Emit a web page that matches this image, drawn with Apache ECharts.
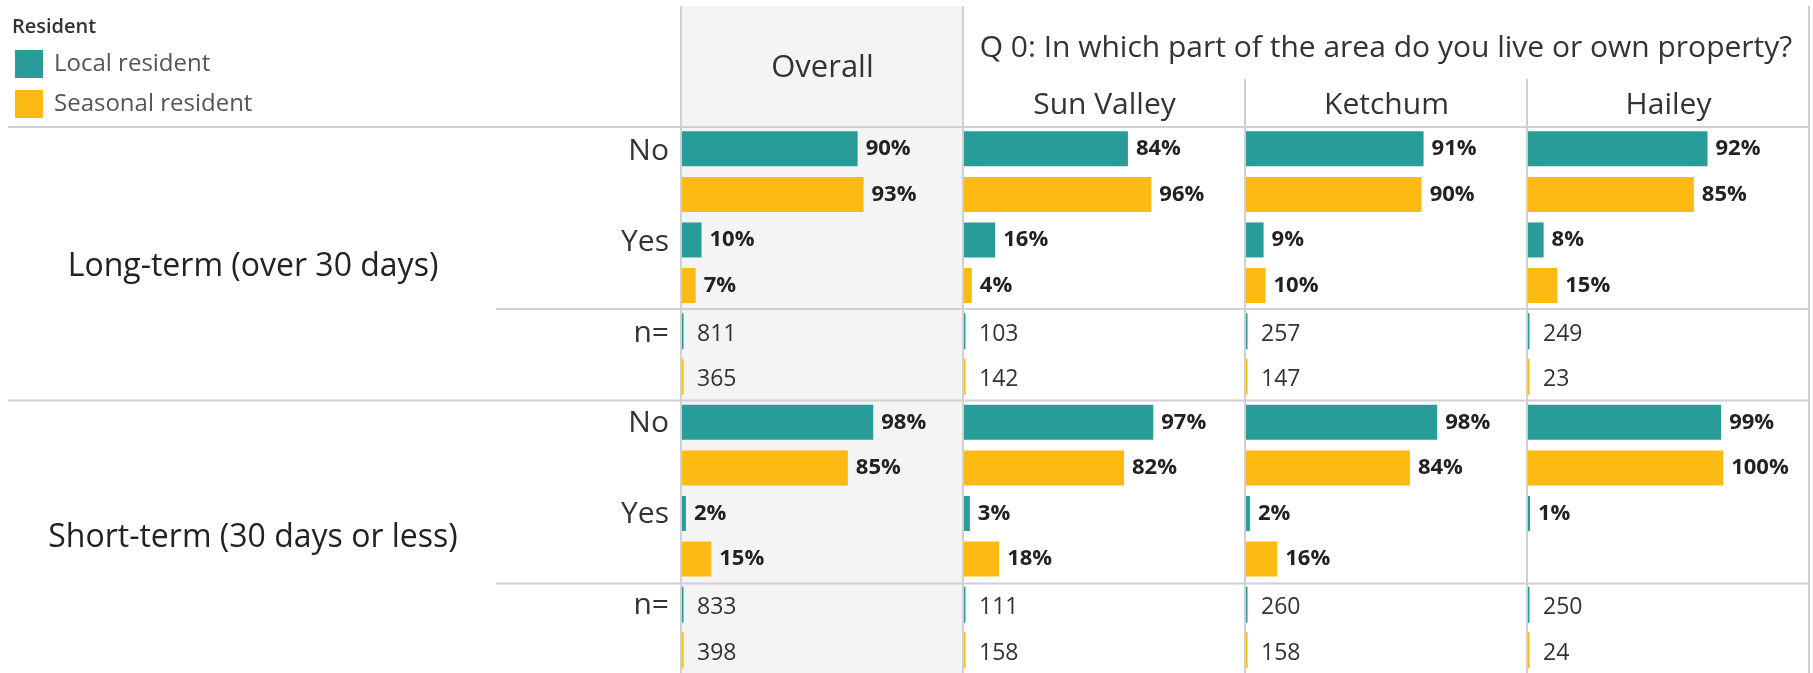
<!DOCTYPE html>
<html><head><meta charset="utf-8">
<script src="https://cdn.jsdelivr.net/npm/echarts@6/dist/echarts.min.js"></script>
<style>html,body{margin:0;padding:0;background:#fff}#c{width:1813px;height:673px}</style>
</head><body><div id="c"></div>
<script>
// ---------- data ----------
const columns = ['Overall', 'Sun Valley', 'Ketchum', 'Hailey'];
const sections = ['Long-term (over 30 days)', 'Short-term (30 days or less)'];
const answers = ['No', 'Yes'];
const residents = ['Local resident', 'Seasonal resident'];
const legendTitle = 'Resident';
const questionTitle = 'Q 0: In which part of the area do you live or own property?';
const nLabel = 'n=';

// percentages per column (Overall, Sun Valley, Ketchum, Hailey)
const localLongNo = [90, 84, 91, 92];
const seasonalLongNo = [93, 96, 90, 85];
const localLongYes = [10, 16, 9, 8];
const seasonalLongYes = [7, 4, 10, 15];
const localShortNo = [98, 97, 98, 99];
const seasonalShortNo = [85, 82, 84, 100];
const localShortYes = [2, 3, 2, 1];
const seasonalShortYes = [15, 18, 16, null];

// respondent counts
const localLongN = [811, 103, 257, 249];
const seasonalLongN = [365, 142, 147, 23];
const localShortN = [833, 111, 260, 250];
const seasonalShortN = [398, 158, 158, 24];

// ---------- layout / style ----------
const FONT = '"Open Sans", "Noto Sans", sans-serif';
const COLORS = ['#289c99', '#fdba13'];
const LINE = '#d0d0d0';
const gridTop = 126, gridH = 549;
const colLines = [681, 963, 1245, 1527, 1809];
const X_MAX = 144;

const pctTable = {};
pctTable[sections[0]] = { No: [localLongNo, seasonalLongNo], Yes: [localLongYes, seasonalLongYes] };
pctTable[sections[1]] = { No: [localShortNo, seasonalShortNo], Yes: [localShortYes, seasonalShortYes] };
const nTable = {};
nTable[sections[0]] = [localLongN, seasonalLongN];
nTable[sections[1]] = [localShortN, seasonalShortN];

const rowKeys = [];
sections.forEach(s => {
  answers.forEach(a => residents.forEach(r => rowKeys.push(s + '|' + a + '|' + r)));
  residents.forEach(r => rowKeys.push(s + '|' + nLabel + '|' + r));
});

const hiddenAxis = { axisLine: { show: false }, axisTick: { show: false }, splitLine: { show: false } };
const grids = [], xAxes = [], yAxes = [], series = [];
columns.forEach((col, c) => {
  grids.push({ left: colLines[c] + 1, top: gridTop, width: colLines[c + 1] - colLines[c] - 1, height: gridH });
  xAxes.push(Object.assign({
    gridIndex: c, type: 'value', min: 0, max: X_MAX, position: 'top', axisLabel: { show: false },
    name: col, nameLocation: 'middle', nameGap: c === 0 ? 58 : 21,
    nameTextStyle: { fontSize: c === 0 ? 31 : 30, color: '#333', fontFamily: FONT, verticalAlign: 'middle' }
  }, hiddenAxis));
  yAxes.push(Object.assign({ gridIndex: c, type: 'category', data: rowKeys, inverse: true, axisLabel: { show: false } }, hiddenAxis));
  residents.forEach((r, ri) => {
    series.push({
      name: r, type: 'bar', xAxisIndex: c, yAxisIndex: c,
      barWidth: 35, barGap: '-100%',
      itemStyle: { color: COLORS[ri] },
      label: {
        show: true, position: 'right', distance: 8, formatter: p => p.value + '%',
        fontSize: 22, fontWeight: 'bold', color: '#222', fontFamily: FONT
      },
      data: rowKeys.map(k => {
        const p = k.split('|');
        if (p[2] !== r || p[1] === nLabel) return '-';
        const v = pctTable[p[0]][p[1]][ri][c];
        return v == null ? '-' : v;
      })
    });
    series.push({
      name: 'n ' + r, type: 'custom', xAxisIndex: c, yAxisIndex: c,
      encode: { y: 0, x: 1 },
      data: rowKeys.filter(k => { const p = k.split('|'); return p[1] === nLabel && p[2] === r; })
        .map(k => [k, nTable[k.split('|')[0]][ri][c]]),
      renderItem: (params, api) => {
        const pt = api.coord([0, api.value(0)]);
        const h = 36;
        return {
          type: 'group', children: [
            { type: 'rect', shape: { x: pt[0], y: pt[1] - h / 2, width: 1.5, height: h }, style: { fill: COLORS[ri] } },
            { type: 'text', style: { text: String(api.value(1)), x: pt[0] + 15, y: pt[1] + 3, verticalAlign: 'middle', align: 'left',
                fontSize: 23, fontFamily: FONT, fill: '#333' } }
          ]
        };
      }
    });
  });
});

// row-label axis (No / Yes / n=), slightly lowered to match the reference baseline
grids.push({ left: colLines[0] + 1, top: gridTop + 3, width: 1, height: gridH });
xAxes.push({ gridIndex: 4, type: 'value', show: false });
yAxes.push(Object.assign({
  gridIndex: 4, type: 'category', data: rowKeys, inverse: true,
  axisLabel: {
    interval: 0, margin: 13, fontSize: 30, color: '#333', fontFamily: FONT,
    formatter: k => { const p = k.split('|'); return p[2] === residents[0] ? p[1] : ''; }
  }
}, hiddenAxis));

// section header axis
grids.push({ left: 253, top: gridTop + 6, width: 1, height: gridH });
xAxes.push({ gridIndex: 5, type: 'value', show: false });
yAxes.push(Object.assign({
  gridIndex: 5, type: 'category', data: sections, inverse: true,
  axisLabel: { interval: 0, margin: 0, align: 'center', fontSize: 32, color: '#222', fontFamily: FONT }
}, hiddenAxis));

const rowH = gridH / rowKeys.length;
const hLine = (x1, y, x2) => ({ type: 'line', z: -5, shape: { x1, y1: y, x2, y2: y }, style: { stroke: LINE, lineWidth: 2 } });
const vLine = (x, y1, y2) => ({ type: 'line', z: -5, shape: { x1: x, y1, x2: x, y2 }, style: { stroke: LINE, lineWidth: 2 } });

const graphic = [
  { type: 'rect', z: -10, shape: { x: colLines[0], y: 6, width: colLines[1] - colLines[0], height: 673 }, style: { fill: '#f4f4f4' } },
  vLine(colLines[0], 6, 673), vLine(colLines[1], 6, 673), vLine(colLines[2], 79, 673), vLine(colLines[3], 79, 673), vLine(colLines[4], 6, 673),
  hLine(8, gridTop + 1, colLines[4]),
  hLine(496, gridTop + rowH * 4, colLines[4]),
  hLine(8, gridTop + rowH * 6, colLines[4]),
  hLine(496, gridTop + rowH * 10, colLines[4]),
  { type: 'text', z: 10, style: { text: legendTitle, x: 12, y: 27, verticalAlign: 'middle', fontSize: 20, fontWeight: 600, fontFamily: FONT, fill: '#333' } },
  { type: 'text', z: 10, style: { text: questionTitle, x: (colLines[1] + colLines[4]) / 2, y: 48, align: 'center', verticalAlign: 'middle', fontSize: 30, fontFamily: FONT, fill: '#333' } }
];

const chart = echarts.init(document.getElementById('c'));
chart.setOption({
  animation: false,
  textStyle: { fontFamily: FONT },
  legend: {
    data: residents, orient: 'vertical', left: 15, top: 50, itemWidth: 28, itemHeight: 28, itemGap: 12, padding: 0,
    icon: 'rect', textStyle: { fontSize: 24, color: '#555', fontFamily: FONT, padding: [0, 0, 0, 6] }
  },
  grid: grids, xAxis: xAxes, yAxis: yAxes, series, graphic
});
</script></body></html>
